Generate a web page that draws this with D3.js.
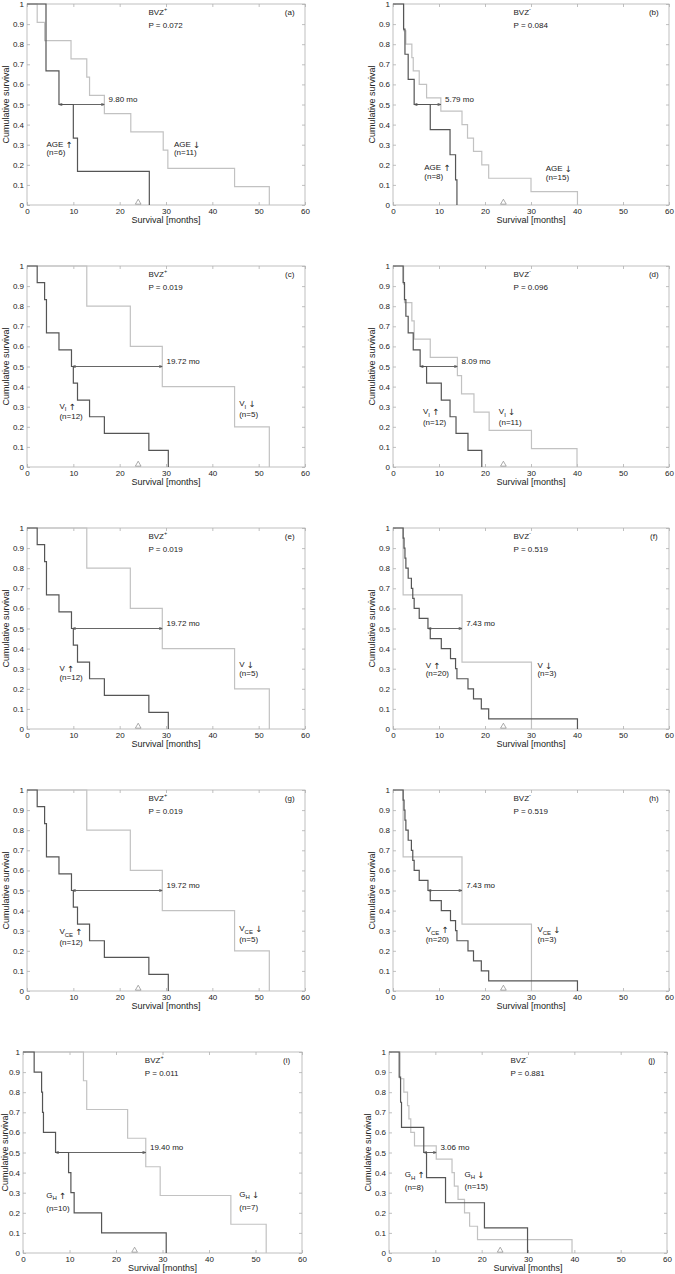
<!DOCTYPE html>
<html><head><meta charset="utf-8">
<script src="https://cdn.jsdelivr.net/npm/d3@7"></script>
<style>
body{margin:0;background:#fff}
svg{display:block}
text{font-family:"Liberation Sans",Arial,Helvetica,sans-serif}
</style>
</head><body>
<svg id="chart" width="675" height="1274"></svg>
<script>
// ---------------- DATA ----------------
const panelIds = ['a','b','c','d','e','f','g','h','i','j'];
const bvzSign = ['+','-','+','-','+','-','+','-','+','-'];
const pValues = ['0.072','0.084','0.019','0.096','0.019','0.519','0.019','0.519','0.011','0.881'];
const groupBase = ['AGE','AGE','V','V','V','V','V','V','G','G'];
const groupSub  = ['','','I','I','','','CE','CE','H','H'];
const nHigh = [6,8,12,12,12,20,12,20,10,8];
const nLow  = [11,15,5,11,5,3,5,3,7,15];
const medianLabels = ['9.80','5.79','19.72','8.09','19.72','7.43','19.72','7.43','19.40','3.06'];
const medianHighX = [6.9,4.6,9.8,5.9,9.8,7.6,9.8,7.6,7.0,7.5];
const medianLowX  = [16.7,10.4,29.2,14.0,29.2,15.0,29.2,15.0,26.4,10.2];
const censorX = [24,24,24,24,24,24,24,24,24,24];

const xTicks = [0,10,20,30,40,50,60];
const yTicks = [0,0.1,0.2,0.3,0.4,0.5,0.6,0.7,0.8,0.9,1];

// survival curves (time in months, cumulative survival)
const aHighT = [0,4.1,6.9,10.0,10.9,26.4];
const aHighS = [1,0.667,0.5,0.333,0.167,0];
const aLowT  = [0,2.2,3.8,9.5,12.9,13.5,16.7,22.4,29.4,30.4,44.8,52.3];
const aLowS  = [1,0.909,0.818,0.727,0.636,0.545,0.455,0.364,0.273,0.182,0.091,0];

const bHighT = [0,2.3,2.6,3.3,4.6,8.1,12.4,13.6,13.9];
const bHighS = [1,0.875,0.75,0.625,0.5,0.375,0.25,0.125,0];
const bLowT  = [0,2.3,2.8,4.1,4.4,5.7,7.3,10.4,15.0,16.2,17.5,19.3,20.8,30.0,40.1];
const bLowS  = [1,0.867,0.8,0.733,0.667,0.6,0.533,0.467,0.4,0.333,0.267,0.2,0.133,0.067,0];

const cHighT = [0,2.2,3.8,4.2,6.9,9.6,10.0,10.9,13.5,16.7,26.3,30.5];
const cHighS = [1,0.917,0.833,0.667,0.583,0.5,0.417,0.333,0.25,0.167,0.083,0];
const cLowT  = [0,12.9,22.3,29.2,44.8,52.3];
const cLowS  = [1,0.8,0.6,0.4,0.2,0];

const dHighT = [0,2.2,2.5,2.8,3.3,4.4,5.9,7.3,10.5,12.4,13.7,16.3,19.3];
const dHighS = [1,0.917,0.833,0.75,0.667,0.583,0.5,0.417,0.333,0.25,0.167,0.083,0];
const dLowT  = [0,2.3,2.5,4.1,4.6,8.1,14.0,14.9,17.6,20.9,30.1,40.0];
const dLowS  = [1,0.909,0.818,0.727,0.636,0.545,0.455,0.364,0.273,0.182,0.091,0];

const eHighT = [0,2.2,3.8,4.2,6.9,9.6,10.0,10.9,13.5,16.7,26.3,30.5];
const eHighS = [1,0.917,0.833,0.667,0.583,0.5,0.417,0.333,0.25,0.167,0.083,0];
const eLowT  = [0,12.9,22.3,29.2,44.8,52.3];
const eLowS  = [1,0.8,0.6,0.4,0.2,0];

const fHighT = [0,2.2,2.4,2.6,2.8,3.3,4.0,4.3,4.6,5.7,7.6,8.1,10.5,12.5,13.6,13.9,16.3,17.5,19.2,20.8,40.1];
const fHighS = [1,0.95,0.9,0.85,0.8,0.75,0.7,0.65,0.6,0.55,0.5,0.45,0.4,0.35,0.3,0.25,0.2,0.15,0.1,0.05,0];
const fLowT  = [0,2.2,15.0,30.1];
const fLowS  = [1,0.667,0.333,0];

const gHighT = [0,2.2,3.8,4.2,6.9,9.6,10.0,10.9,13.5,16.7,26.3,30.5];
const gHighS = [1,0.917,0.833,0.667,0.583,0.5,0.417,0.333,0.25,0.167,0.083,0];
const gLowT  = [0,12.9,22.3,29.2,44.8,52.3];
const gLowS  = [1,0.8,0.6,0.4,0.2,0];

const hHighT = [0,2.2,2.4,2.6,2.8,3.3,4.0,4.3,4.6,5.7,7.6,8.1,10.5,12.5,13.6,13.9,16.3,17.5,19.2,20.8,40.1];
const hHighS = [1,0.95,0.9,0.85,0.8,0.75,0.7,0.65,0.6,0.55,0.5,0.45,0.4,0.35,0.3,0.25,0.2,0.15,0.1,0.05,0];
const hLowT  = [0,2.2,15.0,30.1];
const hLowS  = [1,0.667,0.333,0];

const iHighT = [0,2.4,4.0,4.2,4.4,7.0,9.8,10.3,11.0,16.9,30.8];
const iHighS = [1,0.9,0.8,0.7,0.6,0.5,0.4,0.3,0.2,0.1,0];
const iLowT  = [0,13.0,13.7,22.5,26.4,29.5,44.7,52.3];
const iLowS  = [1,0.857,0.714,0.571,0.429,0.286,0.143,0];

const jHighT = [0,2.2,2.5,2.7,7.5,8.1,12.2,20.6,29.9];
const jHighS = [1,0.875,0.75,0.625,0.5,0.375,0.25,0.125,0];
const jLowT  = [0,2.4,3.2,4.0,4.3,4.7,5.5,10.2,13.6,14.1,14.9,16.3,17.4,19.1,39.5];
const jLowS  = [1,0.867,0.8,0.733,0.667,0.6,0.533,0.467,0.4,0.333,0.267,0.2,0.133,0.067,0];

const highT = [aHighT,bHighT,cHighT,dHighT,eHighT,fHighT,gHighT,hHighT,iHighT,jHighT];
const highS = [aHighS,bHighS,cHighS,dHighS,eHighS,fHighS,gHighS,hHighS,iHighS,jHighS];
const lowT  = [aLowT,bLowT,cLowT,dLowT,eLowT,fLowT,gLowT,hLowT,iLowT,jLowT];
const lowS  = [aLowS,bLowS,cLowS,dLowS,eLowS,fLowS,gLowS,hLowS,iLowS,jLowS];

// ---------------- LAYOUT (positions / styles) ----------------
const frames = [
  {l:27,t:4,w:278,yl:20},{l:393,t:4,w:276,yl:20},
  {l:27,t:266,w:278,yl:20},{l:393,t:266,w:276,yl:20},
  {l:27,t:528,w:278,yl:20},{l:393,t:528,w:276,yl:20},
  {l:27,t:790,w:278,yl:20},{l:393,t:790,w:276,yl:20},
  {l:23,t:1052,w:279,yl:17},{l:389,t:1052,w:278,yl:20}
];
const plotH = 201;
// group label anchor positions in data units: [x, y line1, y line2]
const highLabelPos = [[4.2,0.30,0.257],[6.8,0.186,0.14],[7.0,0.30,0.25],[6.5,0.272,0.217],[7.0,0.30,0.255],
                      [7.1,0.315,0.272],[7.0,0.292,0.237],[7.1,0.303,0.254],[5.0,0.285,0.219],[3.4,0.386,0.326]];
const lowLabelPos  = [[31.7,0.30,0.257],[33.2,0.18,0.135],[45.8,0.313,0.26],[23.0,0.272,0.217],[45.8,0.318,0.274],
                      [31.4,0.315,0.272],[45.8,0.308,0.254],[31.4,0.303,0.254],[46.5,0.29,0.224],[16.3,0.39,0.33]];

const darkCol = '#555555', lightCol = '#c2c2c2', frameCol = '#b0b0b0', textCol = '#222';

const svg = d3.select('#chart');
const defs = svg.append('defs');
defs.append('marker').attr('id','arrEnd').attr('viewBox','0 0 6 6').attr('refX',6).attr('refY',3)
  .attr('markerWidth',4).attr('markerHeight',4).attr('orient','auto')
  .append('path').attr('d','M0,0.5 L6,3 L0,5.5').attr('fill','none').attr('stroke',darkCol).attr('stroke-width',1.2);
defs.append('marker').attr('id','arrStart').attr('viewBox','0 0 6 6').attr('refX',0).attr('refY',3)
  .attr('markerWidth',4).attr('markerHeight',4).attr('orient','auto')
  .append('path').attr('d','M6,0.5 L0,3 L6,5.5').attr('fill','none').attr('stroke',darkCol).attr('stroke-width',1.2);

panelIds.forEach((id, k) => {
  const f = frames[k];
  const g = svg.append('g').attr('transform', `translate(${f.l},${f.t})`);
  const x = d3.scaleLinear().domain([0,60]).range([0,f.w]);
  const y = d3.scaleLinear().domain([0,1]).range([plotH,0]);

  // frame
  g.append('rect').attr('width',f.w).attr('height',plotH)
    .attr('fill','none').attr('stroke',frameCol).attr('stroke-width',0.8);

  const fmtY = d => String(+d.toFixed(1));
  const styleAxis = sel => {
    sel.select('.domain').remove();
    sel.selectAll('line').attr('stroke',frameCol).attr('stroke-width',0.8);
    sel.selectAll('text').attr('fill',textCol).style('font-size','8px')
      .style('font-family','"Liberation Sans",Arial,sans-serif');
  };
  g.append('g').call(d3.axisLeft(y).tickValues(yTicks).tickFormat(fmtY).tickSize(-3).tickPadding(3)).call(styleAxis);
  g.append('g').attr('transform',`translate(${f.w},0)`).call(d3.axisRight(y).tickValues(yTicks).tickFormat('').tickSize(-3)).call(styleAxis);
  g.append('g').attr('transform',`translate(0,${plotH})`).call(d3.axisBottom(x).tickValues(xTicks).tickSize(-3).tickPadding(3)).call(styleAxis);
  g.append('g').call(d3.axisTop(x).tickValues(xTicks).tickFormat('').tickSize(-3)).call(styleAxis);

  // axis titles
  g.append('text').attr('transform',`translate(${-f.yl},${plotH/2}) rotate(-90)`).attr('text-anchor','middle')
    .attr('dominant-baseline','middle').attr('fill',textCol).style('font-size','9px').text('Cumulative survival');
  g.append('text').attr('x',f.w/2).attr('y',plotH+18).attr('text-anchor','middle')
    .attr('fill',textCol).style('font-size','9px').text('Survival [months]');

  // curves
  const line = d3.line().x(d=>x(d[0])).y(d=>y(d[1])).curve(d3.curveStepAfter);
  g.append('path').datum(d3.zip(lowT[k],lowS[k])).attr('d',line)
    .attr('fill','none').attr('stroke',lightCol).attr('stroke-width',1.2);
  g.append('path').datum(d3.zip(highT[k],highS[k])).attr('d',line)
    .attr('fill','none').attr('stroke',darkCol).attr('stroke-width',1.2);

  // median difference line
  g.append('line').attr('x1',x(medianHighX[k])).attr('x2',x(medianLowX[k]))
    .attr('y1',y(0.5)).attr('y2',y(0.5)).attr('stroke',darkCol).attr('stroke-width',0.9)
    .attr('marker-start','url(#arrStart)').attr('marker-end','url(#arrEnd)');
  g.append('text').attr('x',x(medianLowX[k]+0.9)).attr('y',y(0.525)).attr('dominant-baseline','middle')
    .attr('fill',textCol).style('font-size','8px').text(medianLabels[k]+' mo');

  // censor marker
  g.append('path').attr('d',d3.symbol(d3.symbolTriangle,14)())
    .attr('transform',`translate(${x(censorX[k])},${y(0)-2.5})`)
    .attr('fill','none').attr('stroke','#888').attr('stroke-width',0.7);

  // header texts
  const bvz = g.append('text').attr('x',x(26.2)).attr('y',y(0.955)).attr('dominant-baseline','middle')
    .attr('fill',textCol).style('font-size','8px');
  bvz.append('tspan').text('BVZ');
  bvz.append('tspan').attr('dy',-3).style('font-size','5.5px').text(bvzSign[k]);
  g.append('text').attr('x',x(26.2)).attr('y',y(0.89)).attr('dominant-baseline','middle')
    .attr('fill',textCol).style('font-size','8px').text('P = '+pValues[k]);
  g.append('text').attr('x',x(56.7)).attr('y',y(0.957)).attr('text-anchor','middle').attr('dominant-baseline','middle')
    .attr('fill',textCol).style('font-size','8px').text('('+id+')');

  // group labels
  const drawGroup = (pos, arrow, n) => {
    const t = g.append('text').attr('x',x(pos[0])).attr('y',y(pos[1])).attr('dominant-baseline','middle')
      .attr('fill',textCol).style('font-size','8px');
    t.append('tspan').text(groupBase[k]);
    if (groupSub[k]) {
      t.append('tspan').attr('dy',2.5).style('font-size','6px').text(groupSub[k]);
      t.append('tspan').attr('dy',-2.5).text(' ');
    } else {
      t.append('tspan').text(' ');
    }
    t.append('tspan').style('font-family','"DejaVu Sans",sans-serif').style('font-size','8.5px').text(arrow);
    g.append('text').attr('x',x(pos[0])).attr('y',y(pos[2])).attr('dominant-baseline','middle')
      .attr('fill',textCol).style('font-size','8px').text('(n='+n+')');
  };
  drawGroup(highLabelPos[k],'↑',nHigh[k]);
  drawGroup(lowLabelPos[k],'↓',nLow[k]);
});
</script>
</body></html>
